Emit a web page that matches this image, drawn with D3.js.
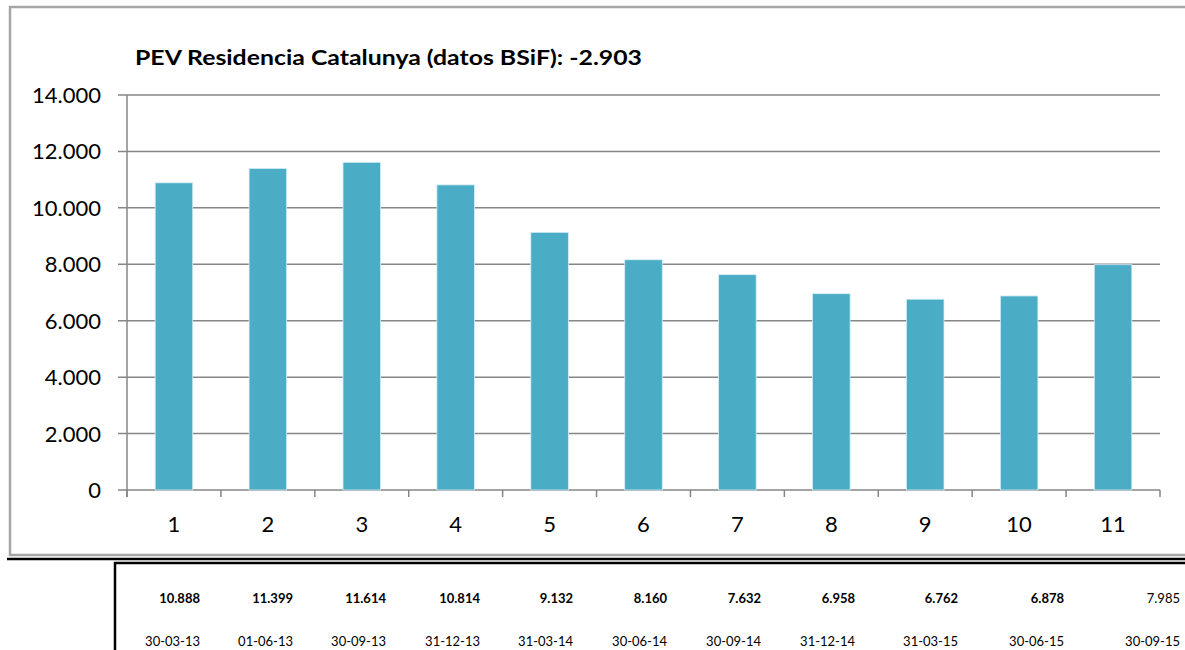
<!DOCTYPE html>
<html>
<head>
<meta charset="utf-8">
<script src="https://cdn.jsdelivr.net/npm/d3@7"></script>
<style>
  body { margin: 0; background: white; }
  #container { width: 1185px; height: 650px; }
</style>
</head>
<body>
<div id="container"></div>
<script>
// chart data
let categories = ['1', '2', '3', '4', '5', '6', '7', '8', '9', '10', '11'];
let values = [10888, 11399, 11614, 10814, 9132, 8160, 7632, 6958, 6762, 6878, 7985];
let dates = ['30-03-13', '01-06-13', '30-09-13', '31-12-13', '31-03-14', '30-06-14',
             '30-09-14', '31-12-14', '31-03-15', '30-06-15', '30-09-15'];
let yTicks = [0, 2000, 4000, 6000, 8000, 10000, 12000, 14000];
let titleText = 'PEV Residencia Catalunya (datos BSiF): -2.903';

let w = 1185,
    h = 650;

let font = 'Lato, "Open Sans", sans-serif';

let viz = d3.select('#container')
    .append('svg')
      .attr('width', w)
      .attr('height', h)
      .style('background', 'white');

// dotted thousands like the spanish excel sheet
let fmt = d => d3.format(',')(d).replace(/,/g, '.');

function main() {
    // outer chart frame (right side runs off the page)
    viz.append('path')
        .attr('d', 'M' + (w + 5) + ',7 H10 V555 H' + (w + 5))
        .attr('fill', 'none')
        .attr('stroke', '#a6a6a6')
        .attr('stroke-width', 2.5);

    let x = d3.scaleBand()
        .domain(categories)
        .range([127, 1160])
        .paddingInner(0.6)
        .paddingOuter(0.3);

    let y = d3.scaleLinear()
        .domain([0, 14000])
        .range([490, 95]);

    // gridlines
    viz.append('g')
        .selectAll('line')
        .data(yTicks)
        .enter().append('line')
          .attr('x1', 118)
          .attr('x2', 1160)
          .attr('y1', d => y(d))
          .attr('y2', d => y(d))
          .attr('stroke', '#868686')
          .attr('stroke-width', 1.5);

    // y axis line
    viz.append('line')
        .attr('x1', 127).attr('x2', 127)
        .attr('y1', y(14000)).attr('y2', 497)
        .attr('stroke', '#868686')
        .attr('stroke-width', 1.5);

    // x tick marks at category boundaries
    let bounds = d3.range(categories.length + 1).map(i => 127 + i * (1160 - 127) / categories.length);
    viz.append('g')
        .selectAll('line')
        .data(bounds)
        .enter().append('line')
          .attr('x1', d => d).attr('x2', d => d)
          .attr('y1', y(0)).attr('y2', 497)
          .attr('stroke', '#868686')
          .attr('stroke-width', 1.5);

    // bars
    viz.append('g')
        .selectAll('rect')
        .data(values)
        .enter().append('rect')
          .attr('x', (d, i) => x(categories[i]))
          .attr('y', d => y(d))
          .attr('width', x.bandwidth())
          .attr('height', d => y(0) - y(d))
          .attr('fill', '#4bacc6')
          .attr('stroke', '#d6eef4')
          .attr('stroke-width', 0.8);

    // y labels
    viz.append('g')
        .attr('font-family', font)
        .attr('font-size', 22)
        .attr('fill', 'black')
        .selectAll('text')
        .data(yTicks)
        .enter().append('text')
          .attr('x', 101)
          .attr('y', d => y(d) + 8)
          .attr('text-anchor', 'end')
          .text(d => fmt(d));

    // x labels
    viz.append('g')
        .attr('font-family', font)
        .attr('font-size', 22)
        .attr('fill', 'black')
        .selectAll('text')
        .data(categories)
        .enter().append('text')
          .attr('x', d => x(d) + x.bandwidth() / 2)
          .attr('y', 532)
          .attr('text-anchor', 'middle')
          .text(d => d);

    // title
    viz.append('text')
        .attr('x', 135)
        .attr('y', 65)
        .attr('font-family', font)
        .attr('font-size', 20)
        .attr('font-weight', 'bold')
        .attr('textLength', 507)
        .attr('lengthAdjust', 'spacingAndGlyphs')
        .text(titleText);

    // black separator lines and table
    viz.append('line')
        .attr('x1', 7).attr('x2', w)
        .attr('y1', 559).attr('y2', 559)
        .attr('stroke', 'black')
        .attr('stroke-width', 2.5);
    viz.append('line')
        .attr('x1', 114).attr('x2', w)
        .attr('y1', 563).attr('y2', 563)
        .attr('stroke', 'black')
        .attr('stroke-width', 2.5);
    viz.append('line')
        .attr('x1', 115).attr('x2', 115)
        .attr('y1', 562).attr('y2', h)
        .attr('stroke', 'black')
        .attr('stroke-width', 2.5);

    // table column widths (excel sheet columns)
    let colW = [85, 93, 93, 94, 93, 94, 94, 94, 103, 106, 116];
    let colRight = d3.cumsum(colW).map(d => 115 + d);

    let table = viz.append('g')
        .attr('font-family', font)
        .attr('font-size', 13)
        .attr('fill', 'black');

    table.selectAll('.val')
        .data(values)
        .enter().append('text')
          .attr('class', 'val')
          .attr('x', (d, i) => colRight[i])
          .attr('y', 603)
          .attr('text-anchor', 'end')
          .attr('font-weight', (d, i) => i < values.length - 1 ? 'bold' : 'normal')
          .text(d => fmt(d));

    table.selectAll('.date')
        .data(dates)
        .enter().append('text')
          .attr('class', 'date')
          .attr('x', (d, i) => colRight[i])
          .attr('y', 646)
          .attr('text-anchor', 'end')
          .text(d => d);
}

main();
</script>
</body>
</html>
